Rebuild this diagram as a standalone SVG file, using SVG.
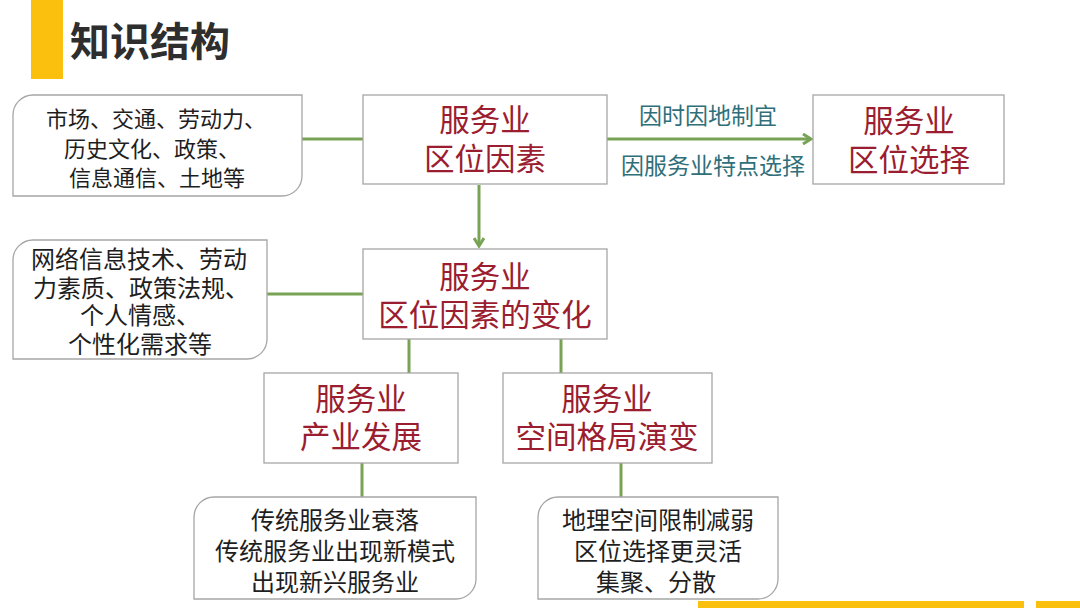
<svg xmlns="http://www.w3.org/2000/svg" width="1080" height="608" viewBox="0 0 1080 608">
<defs>
<style>
.box{fill:#fff;stroke:#a6a6a6;stroke-width:1.3}
.con{stroke:#78a354;stroke-width:3;fill:none}
.t{font-family:"Noto Sans CJK SC","Noto Sans",sans-serif;dominant-baseline:central;text-anchor:middle}
.blk{fill:#1e1e1e}
.red{fill:#9b1d30;font-size:30.5px}
.teal{fill:#2f6f7a;font-size:23px}
</style>
<marker id="chev" viewBox="0 0 12 12" refX="10" refY="6" markerWidth="12" markerHeight="12" markerUnits="userSpaceOnUse" orient="auto">
<path d="M2,1 L10,6 L2,11" fill="none" stroke="#78a354" stroke-width="3"/>
</marker>
</defs>
<rect width="1080" height="608" fill="#fff"/>
<g id="title">
<rect x="31" y="0" width="32" height="79" fill="#fbbf0d"/>
<text x="70" y="39" font-family="Noto Sans CJK SC,sans-serif" font-weight="bold" font-size="40" fill="#2e2e2e" dominant-baseline="central">知识结构</text>
</g>
<g id="footer">
<rect x="698" y="601" width="326" height="7" fill="#fbbf0d"/>
<rect x="1036" y="601" width="44" height="7" fill="#fbbf0d"/>
</g>
<g id="connectors">
<line class="con" x1="302" y1="139" x2="363" y2="139"/>
<line class="con" x1="607" y1="139" x2="811" y2="139" marker-end="url(#chev)"/>
<line class="con" x1="479" y1="185" x2="479" y2="246" marker-end="url(#chev)"/>
<line class="con" x1="267" y1="294" x2="363" y2="294"/>
<line class="con" x1="409" y1="339" x2="409" y2="373"/>
<line class="con" x1="561" y1="339" x2="561" y2="373"/>
<line class="con" x1="362" y1="463" x2="362" y2="497"/>
<line class="con" x1="621" y1="463" x2="621" y2="497"/>
</g>
<g id="edge-labels">
<text class="t teal" x="708" y="114">因时因地制宜</text>
<text class="t teal" x="713" y="164">因服务业特点选择</text>
</g>
<g id="factors">
<path class="box" d="M33,95 H302 V176 A20,20 0 0 1 282,196 H13 V115 A20,20 0 0 1 33,95 Z"/>
<text class="t blk" font-size="22" x="156" y="117">市场、交通、劳动力、</text>
<text class="t blk" font-size="22" x="152" y="147">历史文化、政策、</text>
<text class="t blk" font-size="22" x="157" y="176">信息通信、土地等</text>
</g>
<g id="location-factors">
<rect class="box" x="363" y="95" width="244" height="89"/>
<text class="t red" x="485" y="118">服务业</text>
<text class="t red" x="485" y="157">区位因素</text>
</g>
<g id="location-choice">
<rect class="box" x="813" y="95" width="191" height="89"/>
<text class="t red" x="909" y="119">服务业</text>
<text class="t red" x="909" y="158">区位选择</text>
</g>
<g id="new-factors">
<path class="box" d="M33,240 H267 V339 A20,20 0 0 1 247,359 H13 V260 A20,20 0 0 1 33,240 Z"/>
<text class="t blk" font-size="24" x="139" y="257">网络信息技术、劳动</text>
<text class="t blk" font-size="24" x="141" y="286">力素质、政策法规、</text>
<text class="t blk" font-size="24" x="140" y="313">个人情感、</text>
<text class="t blk" font-size="24" x="140" y="342">个性化需求等</text>
</g>
<g id="factor-change">
<rect class="box" x="363" y="249" width="244" height="90"/>
<text class="t red" x="485" y="275">服务业</text>
<text class="t red" x="485" y="313">区位因素的变化</text>
</g>
<g id="industry-development">
<rect class="box" x="264" y="373" width="194" height="90"/>
<text class="t red" x="361" y="397">服务业</text>
<text class="t red" x="361" y="435">产业发展</text>
</g>
<g id="spatial-evolution">
<rect class="box" x="503" y="373" width="209" height="90"/>
<text class="t red" x="607" y="397">服务业</text>
<text class="t red" x="607" y="435">空间格局演变</text>
</g>
<g id="industry-details">
<path class="box" d="M214,497 H476 V579 A20,20 0 0 1 456,599 H194 V517 A20,20 0 0 1 214,497 Z"/>
<text class="t blk" font-size="24" x="335" y="518">传统服务业衰落</text>
<text class="t blk" font-size="24" x="335" y="549">传统服务业出现新模式</text>
<text class="t blk" font-size="24" x="335" y="580">出现新兴服务业</text>
</g>
<g id="spatial-details">
<path class="box" d="M558,497 H778 V579 A20,20 0 0 1 758,599 H538 V517 A20,20 0 0 1 558,497 Z"/>
<text class="t blk" font-size="24" x="658" y="518">地理空间限制减弱</text>
<text class="t blk" font-size="24" x="658" y="549">区位选择更灵活</text>
<text class="t blk" font-size="24" x="656" y="580">集聚、分散</text>
</g>
</svg>
